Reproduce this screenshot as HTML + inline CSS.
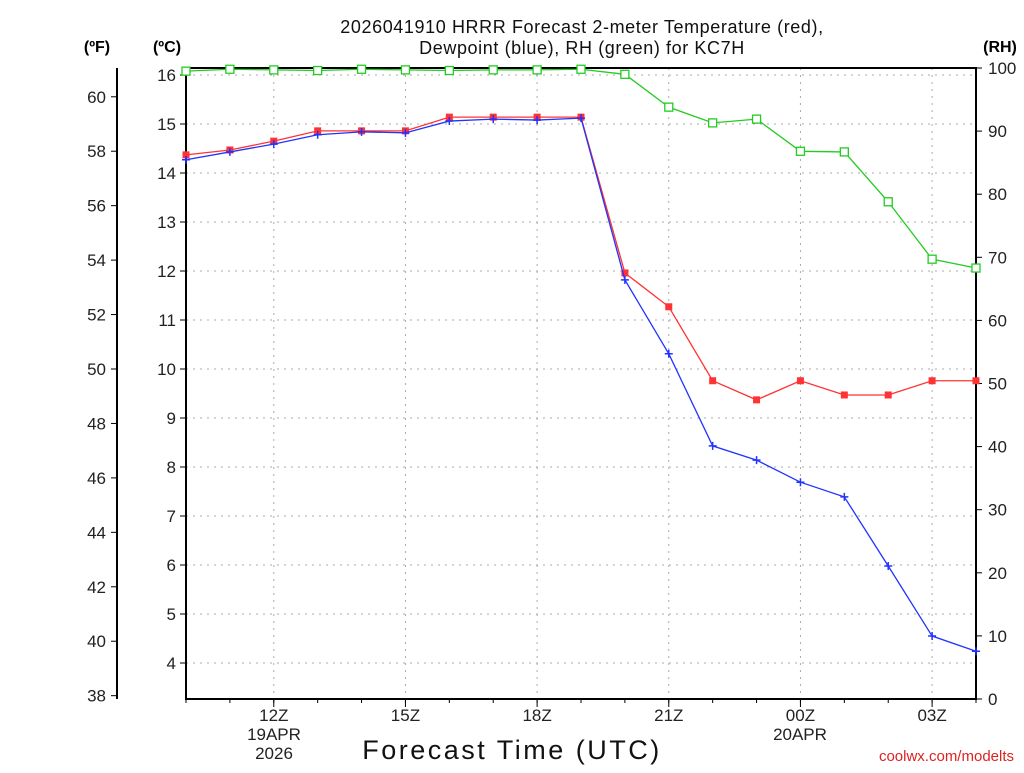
<!DOCTYPE html>
<html><head><meta charset="utf-8"><style>
body{margin:0;background:#fff;}
svg text{font-family:"Liberation Sans",sans-serif;}
</style></head><body>
<svg id="c" width="1024" height="768" xmlns="http://www.w3.org/2000/svg"></svg>
<script>
const hours=["10Z","11Z","12Z","13Z","14Z","15Z","16Z","17Z","18Z","19Z","20Z","21Z","22Z","23Z","00Z","01Z","02Z","03Z","04Z"];
const tempC=[14.37,14.47,14.65,14.86,14.86,14.86,15.14,15.14,15.14,15.14,11.96,11.27,9.76,9.37,9.76,9.47,9.47,9.76,9.76];
const dewC=[14.27,14.43,14.59,14.78,14.84,14.82,15.06,15.10,15.08,15.12,11.82,10.31,8.43,8.14,7.69,7.39,5.98,4.55,4.24];
const rh=[99.5,99.8,99.7,99.6,99.8,99.7,99.6,99.7,99.7,99.8,99.0,93.8,91.3,91.9,86.8,86.7,78.8,69.7,68.3];
const cTicks=[4,5,6,7,8,9,10,11,12,13,14,15,16];
const fTicks=[38,40,42,44,46,48,50,52,54,56,58,60];
const rhTicks=[0,10,20,30,40,50,60,70,80,90,100];
const xLabels=[{i:2,t:"12Z"},{i:5,t:"15Z"},{i:8,t:"18Z"},{i:11,t:"21Z"},{i:14,t:"00Z"},{i:17,t:"03Z"}];

const L=186,R=976,T=68,B=699;
const x=i=>L+(R-L)*i/18;
const yC=c=>75+(16-c)*49;
const yF=f=>yC((f-32)/1.8);
const yRH=v=>B-(B-T)*v/100;
const svg=document.getElementById('c');
const NS="http://www.w3.org/2000/svg";
function el(tag,attrs,parent){const e=document.createElementNS(NS,tag);for(const k in attrs)e.setAttribute(k,attrs[k]);(parent||svg).appendChild(e);return e;}
function txt(s,attrs){const e=el('text',attrs);e.textContent=s;return e;}

cTicks.forEach(c=>{const g=el('line',{x1:L,x2:R,y1:yC(c),y2:yC(c),stroke:'#aaa','stroke-dasharray':'2,5'});
});
xLabels.forEach(o=>{const g=el('line',{x1:x(o.i),x2:x(o.i),y1:T,y2:B,stroke:'#aaa','stroke-dasharray':'2,5'});
});

const fr=el('rect',{x:L,y:T,width:R-L,height:B-T,fill:'none',stroke:'#000','stroke-width':2});


cTicks.forEach(c=>{el('line',{x1:L-6,x2:L,y1:yC(c),y2:yC(c),stroke:'#000'});
const t=txt(String(c),{x:L-10,y:yC(c)+6,'text-anchor':'end','font-size':17,fill:'#222'});
});
el('line',{x1:117,x2:117,y1:68,y2:B,stroke:'#000','stroke-width':2});
fTicks.forEach(f=>{el('line',{x1:111,x2:117,y1:yF(f),y2:yF(f),stroke:'#000'});
const t=txt(String(f),{x:106,y:yF(f)+6,'text-anchor':'end','font-size':17,fill:'#222'});
});
rhTicks.forEach(v=>{el('line',{x1:R,x2:R+6,y1:yRH(v),y2:yRH(v),stroke:'#000'});
const t=txt(String(v),{x:R+12,y:yRH(v)+6,'font-size':17,fill:'#222'});
});
hours.forEach((h,i)=>{el('line',{x1:x(i),x2:x(i),y1:B,y2:B+4,stroke:'#000'});});
xLabels.forEach(o=>{el('line',{x1:x(o.i),x2:x(o.i),y1:B,y2:B+8,stroke:'#000'});
const t=txt(o.t,{x:x(o.i),y:721,'text-anchor':'middle','font-size':17,fill:'#222'});
});
[["19APR",274,740],["2026",274,759],["20APR",800,740]].forEach(a=>{const t=txt(a[0],{x:a[1],y:a[2],'text-anchor':'middle','font-size':17,fill:'#222'});
});

function series(vals,yf,color,name,marker){
  const pts=vals.map((v,i)=>x(i)+','+yf(v)).join(' ');
  const pl=el('polyline',{points:pts,fill:'none',stroke:color,'stroke-width':1.3});
  
  vals.forEach((v,i)=>{const cx=x(i),cy=yf(v);let m;
    if(marker==='fill')m=el('rect',{x:cx-3.5,y:cy-3.5,width:7,height:7,fill:color});
    else if(marker==='open')m=el('rect',{x:cx-4,y:cy-4,width:8,height:8,fill:'#fff',stroke:color,'stroke-width':1.3});
    else{m=el('path',{d:`M${cx-4} ${cy}H${cx+4}M${cx} ${cy-4}V${cy+4}`,stroke:color,'stroke-width':1.5});}
    
    
  });
}
series(rh,yRH,'#22cc22','rh','open');
series(tempC,yC,'#ff3333','temperature','fill');
series(dewC,yC,'#2233ff','dewpoint','plus');

[["2026041910 HRRR Forecast 2-meter Temperature (red),",33],["Dewpoint (blue), RH (green) for KC7H",54]].forEach(a=>{
const t=txt(a[0],{x:582,y:a[1],'text-anchor':'middle','font-size':18,'letter-spacing':'0.6',fill:'#111'});
});
[["(ºF)",97],["(ºC)",167],["(RH)",1000]].forEach(a=>{const t=txt(a[0],{x:a[1],y:52,'text-anchor':'middle','font-size':16,'font-weight':'bold',fill:'#000'});
});
const xt=txt("Forecast Time (UTC)",{x:512,y:759,'text-anchor':'middle','font-size':27,'letter-spacing':'2.5',fill:'#111'});

const cr=txt("coolwx.com/modelts",{x:1014,y:761,'text-anchor':'end','font-size':15,'font-family':'Liberation Mono, monospace',fill:'#dd2222'});

</script>
</body></html>
